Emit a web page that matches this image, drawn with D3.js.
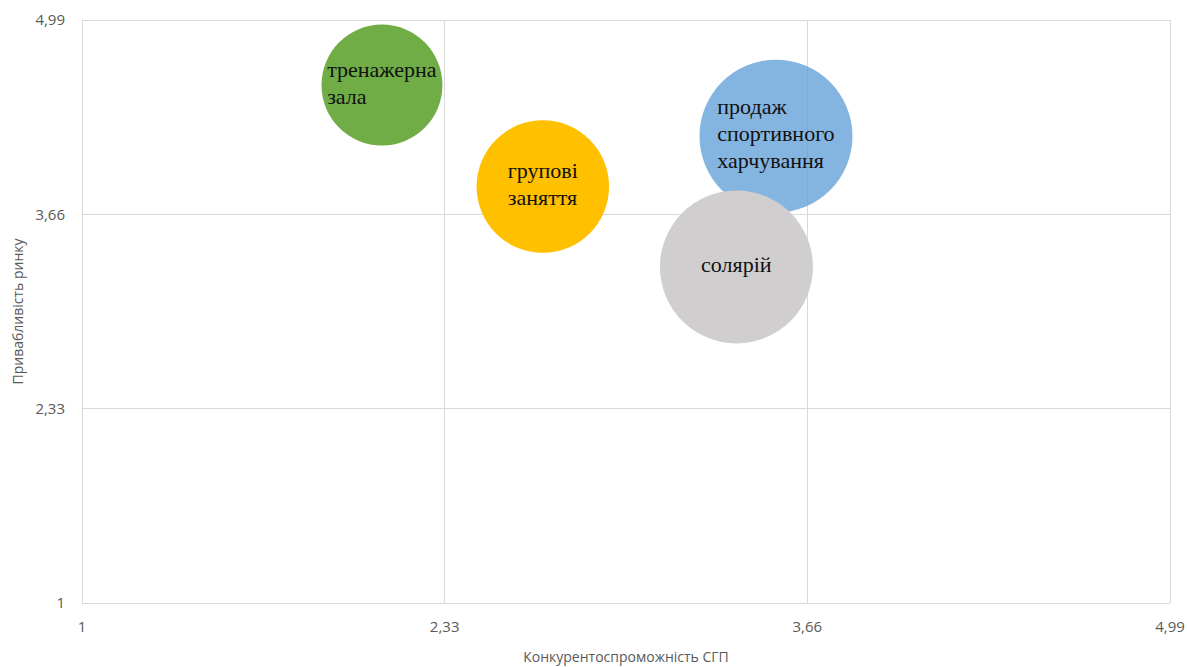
<!doctype html>
<html>
<head>
<meta charset="utf-8">
<script src="https://cdn.jsdelivr.net/npm/d3@7"></script>
<style>
    html, body { margin: 0; padding: 0; background: #fff; }
    svg { display: block; }
    .tick-label { font-family: "Open Sans", sans-serif; font-size: 15px; fill: #595959; }
    .axis-title { font-family: "Open Sans", sans-serif; font-size: 14px; fill: #595959; }
    .bubble-label { font-family: "Liberation Serif", serif; font-size: 22px; fill: #111; }
</style>
</head>
<body>
<svg id="chart" width="1187" height="667"></svg>
<script>
    // data
    var names = ["тренажерна зала", "групові заняття", "продаж спортивного харчування", "солярій"];
    var labelLines = [["тренажерна", "зала"], ["групові", "заняття"], ["продаж", "спортивного", "харчування"], ["солярій"]];
    var competitiveness = [2.10, 2.69, 3.545, 3.40];
    var attractiveness = [4.545, 3.85, 4.195, 3.30];
    var sizes = [25, 30, 40, 40];
    var colors = ["#70ad47", "#ffc000", "rgba(91,155,213,0.75)", "#d0cece"];
    var tickValues = [1, 2.33, 3.66, 4.99];

    var svg = d3.select("#chart");
    var margin = {left: 82, top: 20, right: 17, bottom: 64};
    var W = 1187, H = 667;

    var x = d3.scaleLinear().domain([1, 4.99]).range([margin.left, W - margin.right]);
    var y = d3.scaleLinear().domain([1, 4.99]).range([H - margin.bottom, margin.top]);
    var r = d3.scaleSqrt().domain([0, 40]).range([0, 76.5]);
    var fmt = function(v){ return d3.format(".2~f")(v).replace(".", ","); };

    // grid
    var grid = svg.append("g").attr("stroke", "#d9d9d9").attr("stroke-width", 1).attr("shape-rendering", "crispEdges");
    grid.selectAll(".gx").data(tickValues).enter().append("line")
        .attr("x1", function(d){ return x(d); }).attr("x2", function(d){ return x(d); })
        .attr("y1", y(1)).attr("y2", y(4.99));
    grid.selectAll(".gy").data(tickValues).enter().append("line")
        .attr("y1", function(d){ return y(d); }).attr("y2", function(d){ return y(d); })
        .attr("x1", x(1)).attr("x2", x(4.99));

    // tick labels
    svg.append("g").selectAll("text").data(tickValues).enter().append("text")
        .attr("class", "tick-label")
        .attr("x", function(d){ return x(d); })
        .attr("y", y(1) + 29)
        .attr("text-anchor", "middle")
        .text(fmt);
    svg.append("g").selectAll("text").data(tickValues).enter().append("text")
        .attr("class", "tick-label")
        .attr("x", x(1) - 17)
        .attr("y", function(d){ return y(d); })
        .attr("dy", "0.35em")
        .attr("text-anchor", "end")
        .text(fmt);

    // axis titles
    svg.append("text").attr("class", "axis-title")
        .attr("x", (x(1) + x(4.99)) / 2).attr("y", 662)
        .attr("text-anchor", "middle")
        .text("Конкурентоспроможність СГП");
    svg.append("text").attr("class", "axis-title")
        .attr("transform", "translate(23," + (y(1) + y(4.99)) / 2 + ") rotate(-90)")
        .attr("text-anchor", "middle")
        .text("Привабливість ринку");

    // bubbles
    var idx = d3.range(names.length);
    svg.append("g").selectAll("circle").data(idx).enter().append("circle")
        .attr("cx", function(i){ return x(competitiveness[i]); })
        .attr("cy", function(i){ return y(attractiveness[i]); })
        .attr("r", function(i){ return r(sizes[i]); })
        .attr("fill", function(i){ return colors[i]; });

    // labels: left-aligned block, centred on bubble
    var lineH = 27;
    var labels = svg.append("g").selectAll("g").data(idx).enter().append("g");
    labels.each(function(i){
        var g = d3.select(this);
        var lines = labelLines[i];
        var t = g.append("text").attr("class", "bubble-label");
        lines.forEach(function(l, k){
            t.append("tspan").attr("x", 0).attr("y", k * lineH).text(l);
        });
        var bb = t.node().getBBox();
        var cx = x(competitiveness[i]), cy = y(attractiveness[i]);
        var h = (lines.length - 1) * lineH;
        g.attr("transform", "translate(" + (cx - bb.width / 2) + "," + (cy - h / 2 + 5) + ")");
    });
</script>
</body>
</html>
